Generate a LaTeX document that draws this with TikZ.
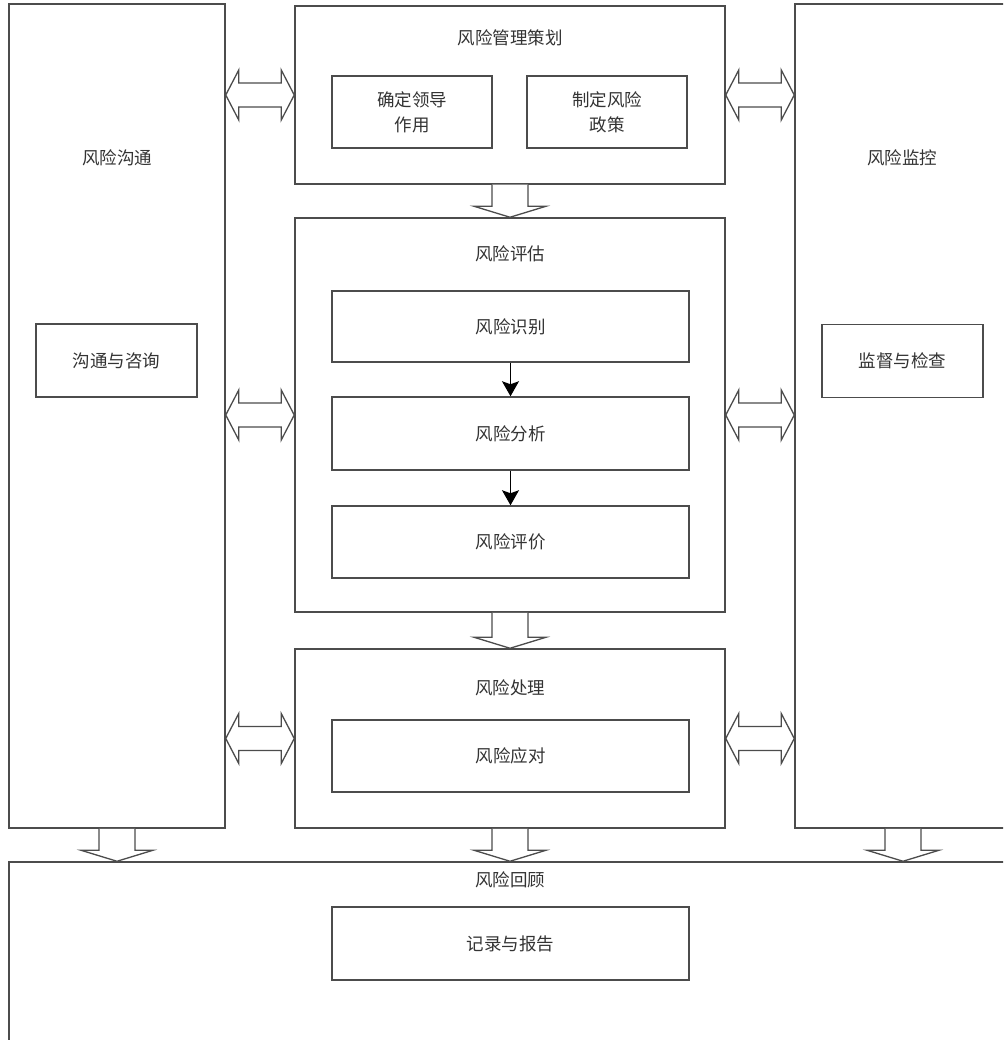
\documentclass[tikz,border=0pt]{standalone}
\usepackage{fontspec}
\setmainfont{Noto Sans CJK SC}
\usetikzlibrary{calc,arrows.meta}
\tikzset{
  box/.style={draw=black!70, line width=1.5pt, fill=white, inner sep=0pt, rectangle},
  lbl/.style={font=\fontsize{17.5}{25}\selectfont, text=black!80, align=center, inner sep=0pt},
  barrow/.style={draw=black!70, line width=1.3pt, fill=white, line join=miter},
  smallarrow/.style={draw=black, line width=1.3pt, -{Stealth[length=15pt,width=17pt,inset=3pt]}}
}
\newcommand\mydbl[2]{%
  \draw[barrow] (#1) -- ++(13,-25) -- ++(0,13) -- ($(#2)+(-13,-12)$) -- ++(0,-13) -- (#2)
    -- ++(-13,25) -- ++(0,-13) -- ($(#1)+(13,12)$) -- ++(0,13) -- cycle;}
\newcommand\mydown[2]{%
  \draw[barrow] ($(#1)+(-18,0)$) -- ($(#2)+(-18,-11)$) -- ($(#2)+(-36,-11)$) -- (#2)
    -- ($(#2)+(36,-11)$) -- ($(#2)+(18,-11)$) -- ($(#1)+(18,0)$);}
\begin{document}
\begin{tikzpicture}[x=1pt,y=-1pt]
\useasboundingbox (0,0) rectangle (1003,1040);
\clip (0,0) rectangle (1003,1040);
% outer boxes
\node[box, minimum width=216pt, minimum height=824pt] (left) at (117,416) {};
\node[box, minimum width=216pt, minimum height=824pt] (right) at (903,416) {};
\node[box, minimum width=430pt, minimum height=178pt] (plan) at (510,95) {};
\node[box, minimum width=430pt, minimum height=394pt] (assess) at (510,415) {};
\node[box, minimum width=430pt, minimum height=179pt] (treat) at (510,738.5) {};
\node[box, minimum width=1002pt, minimum height=188pt] (review) at (510,956) {};
% titles
\node[lbl] (tleft) at (117,158) {风险沟通};
\node[lbl] (tright) at (902,158) {风险监控};
\node[lbl] (tplan) at (510,38) {风险管理策划};
\node[lbl] (tassess) at (510,254) {风险评估};
\node[lbl] (ttreat) at (510,688) {风险处理};
\node[lbl] (treview) at (510,880) {风险回顾};
% inner boxes
\node[box, lbl, minimum width=160pt, minimum height=72pt] (lead) at (412,112) {确定领导\\作用};
\node[box, lbl, minimum width=160pt, minimum height=72pt] (policy) at (607,112) {制定风险\\政策};
\node[box, lbl, minimum width=357pt, minimum height=71pt] (ident) at (510.5,326.5) {风险识别};
\node[box, lbl, minimum width=357pt, minimum height=73pt] (anal) at (510.5,433.5) {风险分析};
\node[box, lbl, minimum width=357pt, minimum height=72pt] (evalu) at (510.5,542) {风险评价};
\node[box, lbl, minimum width=357pt, minimum height=72pt] (resp) at (510.5,756) {风险应对};
\node[box, lbl, minimum width=357pt, minimum height=73pt] (rec) at (510.5,943.5) {记录与报告};
\node[box, lbl, minimum width=161pt, minimum height=73pt] (comm) at (116.5,360.5) {沟通与咨询};
\node[box, lbl, minimum width=161pt, minimum height=73pt] (moni) at (902.5,361) {监督与检查};
% small arrows
\draw[smallarrow] (ident.south) -- (anal.north);
\draw[smallarrow] (anal.south) -- (evalu.north);
% double arrows
\mydbl{left.east |- plan.west}{plan.west}
\mydbl{plan.east}{plan.east -| right.west}
\mydbl{left.east |- assess.west}{assess.west}
\mydbl{assess.east}{assess.east -| right.west}
\mydbl{left.east |- treat.west}{treat.west}
\mydbl{treat.east}{treat.east -| right.west}
% down arrows
\mydown{plan.south}{assess.north}
\mydown{assess.south}{treat.north}
\mydown{treat.south}{treat.south |- review.north}
\mydown{left.south}{left.south |- review.north}
\mydown{right.south}{right.south |- review.north}
\end{tikzpicture}
\end{document}
